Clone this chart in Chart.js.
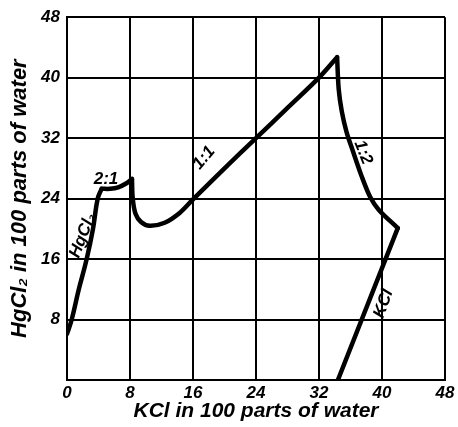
<!DOCTYPE html>
<html>
<head>
<meta charset="utf-8">
<script src="https://cdn.jsdelivr.net/npm/chart.js@4/dist/chart.umd.min.js"></script>
<style>
  html, body { margin: 0; padding: 0; background: #fff; }
  #wrap { width: 458px; height: 427px; }
</style>
</head>
<body>
<div id="wrap"><canvas id="c" width="458" height="427"></canvas></div>
<script>
// Solubility isotherm: HgCl2 vs KCl, parts per 100 parts of water
const tickValues = [0, 8, 16, 24, 32, 40, 48];

// Solid phase HgCl2
const hgcl2X = [0, 0.6, 1.5, 2.5, 3.3, 3.9, 4.4];
const hgcl2Y = [6.1, 8.0, 12.0, 16.0, 20.0, 24.0, 25.3];

// Double salt 2:1
const d21X = [4.4, 5.5, 6.5, 7.5, 8.25];
const d21Y = [25.3, 25.3, 25.5, 26.0, 26.6];

// Double salt 1:1
const d11X = [8.25, 8.35, 8.7, 9.4, 10.5, 12.4, 14.3, 16.0, 20.0, 24.0, 28.0, 32.0, 34.3];
const d11Y = [26.6, 24.0, 22.0, 20.9, 20.4, 20.8, 22.1, 23.9, 28.0, 32.0, 36.0, 40.0, 42.7];

// Double salt 1:2
const d12X = [34.3, 34.5, 34.9, 35.5, 36.3, 37.4, 38.5, 39.6, 42.0];
const d12Y = [42.7, 38.5, 35.5, 32.8, 30.3, 27.0, 24.2, 22.5, 20.1];

// Solid phase KCl
const kclX = [42.0, 34.4];
const kclY = [20.1, 0];

// Curve labels: text, position (data units), rotation (degrees)
const labelTexts = ['HgCl\u2082', '2:1', '1:1', '1:2', 'KCl'];
const labelX = [2.0, 4.95, 17.4, 37.6, 40.2];
const labelY = [19.1, 26.6, 29.4, 30.1, 10.1];
const labelAngle = [-69, 0, -50, 68, -70];

const FONT = "'Liberation Sans', 'DejaVu Sans', sans-serif";

function pts(xs, ys) { return xs.map((x, i) => ({ x: x, y: ys[i] })); }

function branch(xs, ys, tension) {
  return {
    data: pts(xs, ys),
    showLine: true,
    borderColor: '#000',
    borderWidth: 4.5,
    pointRadius: 0,
    tension: tension,
    borderCapStyle: 'round',
    borderJoinStyle: 'round',
    fill: false
  };
}

const curveLabels = {
  id: 'curveLabels',
  afterDatasetsDraw(chart) {
    const ctx = chart.ctx;
    const xs = chart.scales.x, ys = chart.scales.y;
    ctx.save();
    ctx.fillStyle = '#000';
    ctx.font = "italic bold 17px " + FONT;
    ctx.textAlign = 'center';
    ctx.textBaseline = 'middle';
    labelTexts.forEach((t, i) => {
      ctx.save();
      ctx.translate(xs.getPixelForValue(labelX[i]), ys.getPixelForValue(labelY[i]));
      ctx.rotate(labelAngle[i] * Math.PI / 180);
      ctx.fillText(t, 0, 0);
      ctx.restore();
    });
    ctx.restore();
  }
};

new Chart(document.getElementById('c'), {
  type: 'scatter',
  data: {
    datasets: [
      branch(hgcl2X, hgcl2Y, 0.4),
      branch(d21X, d21Y, 0.4),
      branch(d11X, d11Y, 0.35),
      branch(d12X, d12Y, 0.3),
      branch(kclX, kclY, 0)
    ]
  },
  options: {
    responsive: false,
    animation: false,
    layout: { padding: { left: 0, right: 13, top: 10, bottom: 0 } },
    plugins: { legend: { display: false }, tooltip: { enabled: false } },
    scales: {
      x: {
        type: 'linear', min: 0, max: 48,
        afterBuildTicks(s) { s.ticks = tickValues.map(v => ({ value: v })); },
        afterFit(s) { s.height = 47; },
        grid: { color: '#000', lineWidth: 2, drawTicks: false },
        border: { color: '#000', width: 2 },
        ticks: {
          color: '#000', padding: 3,
          font: { family: FONT, size: 17, style: 'italic', weight: 'bold' }
        },
        title: {
          display: true, text: 'KCl in 100 parts of water', color: '#000',
          padding: { top: 0, bottom: 3 },
          font: { family: FONT, size: 21, style: 'italic', weight: 'bold' }
        }
      },
      y: {
        type: 'linear', min: 0, max: 48,
        afterBuildTicks(s) { s.ticks = tickValues.map(v => ({ value: v })); },
        afterFit(s) { s.width = 67; },
        grid: { color: '#000', lineWidth: 2, drawTicks: false },
        border: { color: '#000', width: 2 },
        ticks: {
          color: '#000', padding: 7,
          callback: v => (v === 0 ? '' : String(v)),
          font: { family: FONT, size: 17, style: 'italic', weight: 'bold' }
        },
        title: {
          display: true, text: 'HgCl\u2082 in 100 parts of water', color: '#000',
          padding: { top: 7, bottom: 1 },
          font: { family: FONT, size: 22, style: 'italic', weight: 'bold' }
        }
      }
    }
  },
  plugins: [curveLabels]
});
</script>
</body>
</html>
